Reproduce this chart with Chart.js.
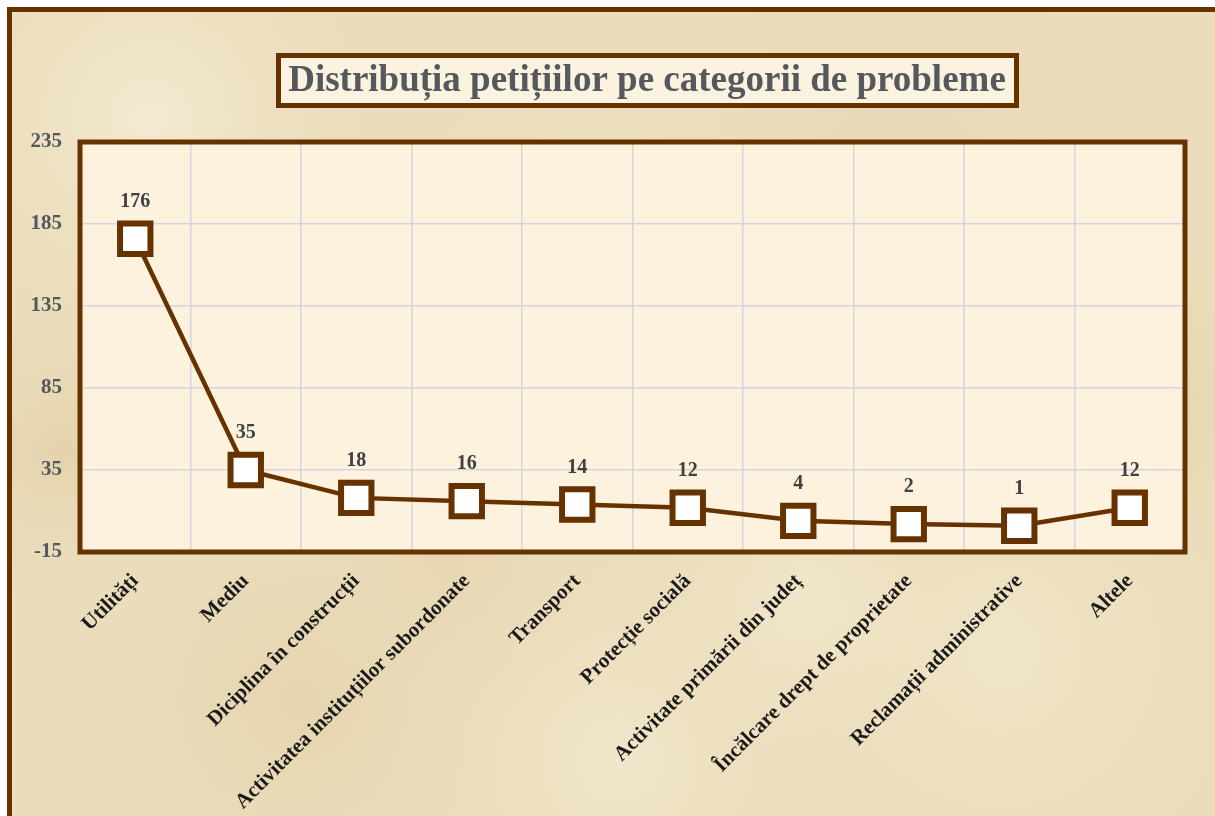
<!DOCTYPE html>
<html><head><meta charset="utf-8">
<script src="https://cdn.jsdelivr.net/npm/chart.js@4.4.0/dist/chart.umd.min.js"></script>
<style>html,body{margin:0;padding:0;background:#fff;}#wrap{width:1215px;height:816px;position:relative;overflow:hidden}</style>
</head><body><div id="wrap"><canvas id="c" width="1215" height="816"></canvas></div>
<script>
const titleText = "Distribuția petițiilor pe categorii de probleme";
const categories = ["Utilități","Mediu","Diciplina în construcții","Activitatea instituțiilor subordonate","Transport","Protecție socială","Activitate primării din județ","Încălcare drept de proprietate","Reclamații administrative","Altele"];
const values = [176,35,18,16,14,12,4,2,1,12];
const yTicks = [-15,35,85,135,185,235];

const SERIF = '"Liberation Serif","Times New Roman",serif';
const BROWN = '#663300';

const bgPlugin = {
  id:'bg',
  beforeDraw(chart){
    const ctx = chart.ctx, W = chart.width, H = chart.height, a = chart.chartArea;
    ctx.save();
    ctx.fillStyle = '#fff'; ctx.fillRect(0,0,W,H);
    ctx.fillStyle = '#EBDDBB'; ctx.fillRect(9,9,W,H);
    const spots = [[150,120,260,'rgba(248,240,220,0.7)'],[600,300,300,'rgba(246,238,216,0.5)'],[1000,650,320,'rgba(246,236,212,0.55)'],[300,700,260,'rgba(218,196,152,0.35)'],[900,180,240,'rgba(222,202,160,0.3)'],[60,450,160,'rgba(214,190,146,0.35)'],[1150,400,200,'rgba(218,196,155,0.35)'],[620,760,250,'rgba(248,240,220,0.5)'],[450,560,180,'rgba(222,200,158,0.3)'],[800,600,200,'rgba(247,238,218,0.5)']];
    for (const [x,y,r,c] of spots){
      const g = ctx.createRadialGradient(x,y,0,x,y,r);
      g.addColorStop(0,c); g.addColorStop(1,'rgba(235,221,187,0)');
      ctx.fillStyle = g; ctx.fillRect(9,9,W,H);
    }
    ctx.fillStyle = '#FCF2DE';
    ctx.fillRect(a.left,a.top,a.right-a.left,a.bottom-a.top);
    ctx.fillStyle = '#FBF2E0';
    ctx.fillRect(278,55,739,50);
    ctx.lineWidth = 5; ctx.strokeStyle = BROWN;
    ctx.strokeRect(278.5,55.5,738,50);
    ctx.fillStyle = '#55595E';
    ctx.font = 'bold 37px '+SERIF;
    ctx.textAlign = 'center'; ctx.textBaseline = 'middle';
    ctx.fillText(titleText, 647, 81);
    ctx.restore();
  },
  afterDraw(chart){
    const ctx = chart.ctx, a = chart.chartArea;
    ctx.save();
    ctx.lineWidth = 5; ctx.strokeStyle = BROWN;
    ctx.strokeRect(a.left, a.top, a.right-a.left, a.bottom-a.top);
    ctx.strokeRect(9.5,9.5,1400,1400);
    const meta = chart.getDatasetMeta(0);
    ctx.fillStyle = '#404040';
    ctx.font = 'bold 20px '+SERIF;
    ctx.textAlign = 'center'; ctx.textBaseline = 'middle';
    meta.data.forEach((p,i)=>{ ctx.fillText(String(values[i]), p.x, p.y-37); });
    ctx.restore();
  }
};

new Chart(document.getElementById('c'), {
  type:'line',
  data:{ labels: categories, datasets:[{
    data: values,
    borderColor: BROWN, borderWidth: 4.5,
    pointStyle:'rect', pointRadius: 21.5, pointHoverRadius: 21.5,
    pointBackgroundColor:'#ffffff', pointBorderColor: BROWN, pointBorderWidth: 6,
    tension: 0, fill:false
  }]},
  options:{
    responsive:false, animation:false, devicePixelRatio:1,
    layout:{ padding:{ left:8, top:142, right:30, bottom:0 } },
    plugins:{ legend:{display:false}, title:{display:false}, tooltip:{enabled:false} },
    scales:{
      x:{
        type:'category', offset:true,
        grid:{ offset:true, color:'#D3D4E0', lineWidth:1.5, drawTicks:false },
        border:{ display:false },
        ticks:{ minRotation:45, maxRotation:45, padding:17, color:'#1a1a1a', font:{ family:SERIF, size:21, weight:'bold' } },
        afterFit(s){ s.height = 264; }
      },
      y:{
        type:'linear', min:-15, max:235,
        grid:{ color:'#D3D4E0', lineWidth:1.5, drawTicks:false },
        border:{ display:false },
        ticks:{ padding:18, color:'#55595E', font:{ family:SERIF, size:21, weight:'bold' } },
        afterBuildTicks(s){ s.ticks = yTicks.map(v=>({value:v})); },
        afterFit(s){ s.width = 72; }
      }
    }
  },
  plugins:[bgPlugin]
});
</script>
</body></html>
